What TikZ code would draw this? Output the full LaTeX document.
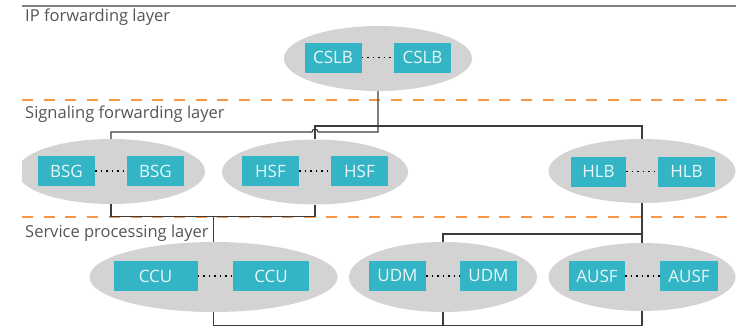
\documentclass[tikz,border=0pt]{standalone}
\usepackage{fontspec}
\setmainfont{Open Sans}
\usetikzlibrary{shapes.geometric}
\definecolor{cloudgray}{RGB}{211,211,211}
\definecolor{nfteal}{RGB}{52,181,197}
\definecolor{nftext}{RGB}{232,247,249}
\definecolor{layerorange}{RGB}{246,152,72}
\definecolor{wiregray}{RGB}{60,60,60}
\definecolor{labelgray}{RGB}{85,85,85}
\tikzset{
  cluster/.style={ellipse, fill=cloudgray, draw=none, inner sep=0pt},
  nfbox/.style={rectangle, fill=nfteal, draw=none, inner sep=0pt,
    minimum height=30pt, minimum width=57pt, text=nftext,
    font=\fontsize{17}{19}\selectfont},
  peer/.style={line width=1.5pt, dash pattern=on 1.5pt off 4pt, black},
  wire/.style={line width=1.1pt, draw=wiregray},
  layerline/.style={line width=2pt, draw=layerorange, dash pattern=on 11pt off 10.7pt},
  layername/.style={anchor=base west, inner sep=0pt, text=labelgray,
    font=\fontsize{16.5}{18}\selectfont}
}
\begin{document}
\begin{tikzpicture}[x=1pt,y=-1pt]
\useasboundingbox (0,0) rectangle (750,327);

% layer separators
\draw[line width=1.2pt, draw=gray] (22,6) -- (736,6);
\draw[layerline] (22,100) -- (736,100);
\draw[layerline] (22,216.7) -- (736,216.7);

% layer names
\node[layername] (lip)  at (25,21.7)  {IP forwarding layer};
\node[layername] (lsig) at (25,118)   {Signaling forwarding layer};
\node[layername] (lsrv) at (25,237.7) {Service processing layer};

% clusters
\node[cluster, minimum width=188pt, minimum height=65pt] (cslbE) at (378,58.5) {};
\begin{scope}
  \clip (22,0) rectangle (750,327);
  \node[cluster, minimum width=188pt, minimum height=65pt] (bsgE) at (111,171.5) {};
\end{scope}
\node[cluster, minimum width=186pt, minimum height=65pt] (hsfE)  at (315,172) {};
\node[cluster, minimum width=187pt, minimum height=64pt] (hlbE)  at (642,171) {};
\node[cluster, minimum width=248pt, minimum height=70pt] (ccuE)  at (213.5,277) {};
\node[cluster, minimum width=188pt, minimum height=70pt] (udmE)  at (443,277) {};
\node[cluster, minimum width=187pt, minimum height=68pt] (ausfE) at (642,277) {};

% network functions
\node[nfbox] (cslbA) at (333,57.5)  {CSLB};
\node[nfbox] (cslbB) at (422.5,57.5) {CSLB};
\node[nfbox] (bsgA)  at (66.5,171)  {BSG};
\node[nfbox] (bsgB)  at (155.5,171) {BSG};
\node[nfbox] (hsfA)  at (270.5,171) {HSF};
\node[nfbox] (hsfB)  at (359.5,171) {HSF};
\node[nfbox, minimum width=55pt] (hlbA)  at (598.5,171.5) {HLB};
\node[nfbox] (hlbB)  at (686.5,171.5) {HLB};
\node[nfbox, minimum width=84pt] (ccuA) at (155.5,276) {CCU};
\node[nfbox, minimum width=76pt] (ccuB) at (271,276)   {CCU};
\node[nfbox] (udmA)  at (397.5,276) {UDM};
\node[nfbox] (udmB)  at (488.5,276) {UDM};
\node[nfbox, minimum width=56pt] (ausfA) at (597,276) {AUSF};
\node[nfbox, minimum width=58pt] (ausfB) at (689,276) {AUSF};

% peers within a cluster
\draw[peer] (cslbA.east) -- (cslbB.west);
\draw[peer] (bsgA.east)  -- (bsgB.west);
\draw[peer] (hsfA.east)  -- (hsfB.west);
\draw[peer] (hlbA.east)  -- (hlbB.west);
\draw[peer] (ccuA.east)  -- (ccuB.west);
\draw[peer] (udmA.east)  -- (udmB.west);
\draw[peer] (ausfA.east) -- (ausfB.west);

% links between layers
\coordinate (jump) at (318,132);
\coordinate (sigbus) at (111,216.7);
\coordinate (ccutap) at (213.5,216.7);
\coordinate (hlbtap) at (642,234);
\coordinate (botbus) at (213.5,325.7);

\draw[wire] (cslbE.south) |- (jump) arc (0:-180:3) -| (bsgE.north);
\draw[wire] (hsfE.north) |- (315,126) -| (hlbE.north);
\draw[wire] (bsgE.south) -- (sigbus) -| (hsfE.south);
\draw[wire] (ccutap) -- (ccuE.north);
\draw[wire] (hlbE.south) -- (ausfE.north);
\draw[wire] (hlbtap) -| (udmE.north);
\draw[wire] (ccuE.south) -- (botbus) -| (ausfE.south);
\draw[wire] (udmE.south) -- (udmE.south |- botbus);
\end{tikzpicture}
\end{document}
